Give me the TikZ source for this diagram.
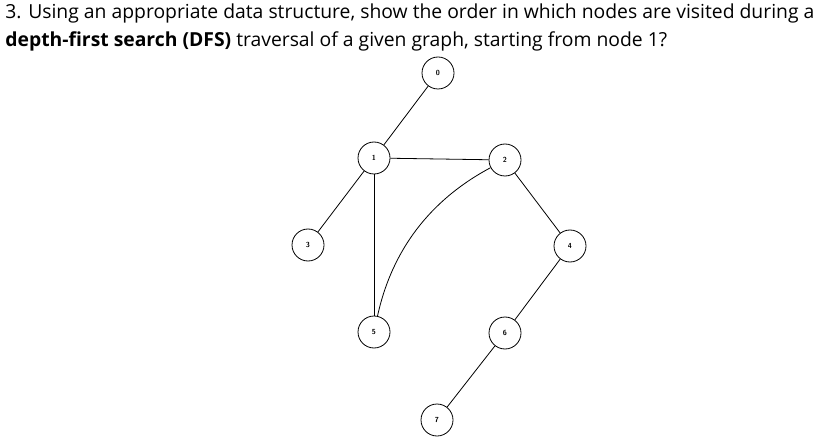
\documentclass[tikz,border=0pt]{standalone}
\usepackage{fontspec}
\setmainfont{Open Sans}
\usetikzlibrary{positioning}
\tikzset{vertex/.style={circle,draw,fill=white,minimum size=24pt,inner sep=0pt,font=\sffamily\bfseries\fontsize{5.5}{6}\selectfont}}
\begin{document}
\begin{tikzpicture}[x=0.75pt,y=0.75pt,yscale=-1,xscale=1,line width=0.6pt]
	\useasboundingbox (0,0) rectangle (820,445);
	% Title
	\node [anchor=north west,inner sep=0pt,align=left,font=\fontsize{14.5}{21}\selectfont] (title) at (5,3)
		{3. Using an appropriate data structure, show the order in which nodes are visited during a\\
		\textbf{depth-first search (DFS)} traversal of a given graph, starting from node 1?};
	% Vertices
	\node [vertex] (n0) at (438,73) {0};
	\node [vertex] (n1) at (374,158) {1};
	\node [vertex] (n2) at (505,160) {2};
	\node [vertex] (n3) at (308,245) {3};
	\node [vertex] (n4) at (570,246) {4};
	\node [vertex] (n5) at (374,332) {5};
	\node [vertex] (n6) at (505,333) {6};
	\node [vertex] (n7) at (437,420) {7};
	% Edges
	\draw (n0) -- (n1);
	\draw (n1) -- (n2);
	\draw (n1) -- (n3);
	\draw (n1) -- (n5);
	\draw (n2) -- (n4);
	\draw (n4) -- (n6);
	\draw (n6) -- (n7);
	\draw (n5) .. controls (392,250) and (430,200) .. (n2);
\end{tikzpicture}
\end{document}
